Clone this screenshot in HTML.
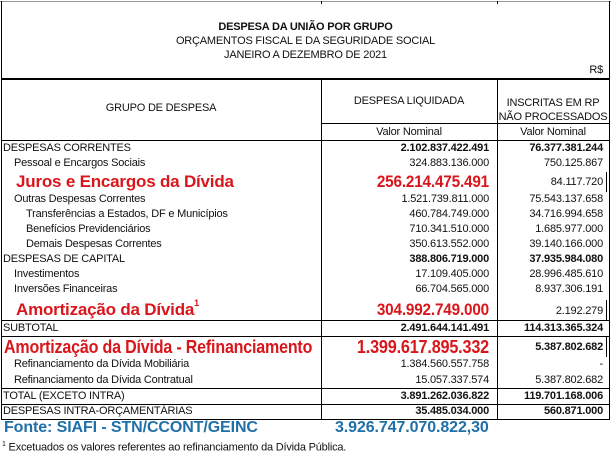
<!DOCTYPE html>
<html><head><meta charset="utf-8"><style>
body{margin:0;width:611px;height:457px;background:#fff;position:relative;overflow:hidden;font-family:"Liberation Sans",Arial,sans-serif;color:#111}
.t{position:absolute;white-space:nowrap;font-size:11px;letter-spacing:-0.2px;line-height:13px}
.r{text-align:right}
.c{text-align:center}
.b{font-weight:bold}
.red{color:#d9161c;font-weight:bold;font-size:17px;letter-spacing:-0.2px;line-height:20px}
.sr{transform:scaleX(0.9);transform-origin:right center}
.sl{transform:scaleX(0.89);transform-origin:left center}
.blue{color:#1f6fa8;font-weight:bold;font-size:16px;letter-spacing:-0.1px;line-height:20px}
.h{position:absolute;background:#000;height:1px}
.v{position:absolute;background:#000;width:1px}
</style></head><body>
<div class="h" style="left:0;top:1px;width:611px;background:#999"></div>
<div class="v" style="left:1px;top:1px;height:419px"></div>
<div class="v" style="left:609px;top:1px;height:419px"></div>
<div class="v" style="left:321px;top:1px;height:3px"></div>
<div class="v" style="left:497px;top:1px;height:3px"></div>

<div class="t c b" style="left:0;width:611px;top:21px">DESPESA DA UNIÃO POR GRUPO</div>
<div class="t c" style="left:0;width:611px;top:35px">ORÇAMENTOS FISCAL E DA SEGURIDADE SOCIAL</div>
<div class="t c" style="left:0;width:611px;top:49px">JANEIRO A DEZEMBRO DE 2021</div>
<div class="t r" style="left:500px;width:103px;top:64px">R$</div>

<div class="h" style="left:1px;top:78px;width:609px;height:2px"></div>
<div class="v" style="left:321px;top:78px;height:342px"></div>
<div class="v" style="left:497px;top:78px;height:342px"></div>
<div class="h" style="left:321px;top:123px;width:288px"></div>
<div class="h" style="left:1px;top:140px;width:609px"></div>

<div class="t c" style="left:1px;width:320px;top:102px">GRUPO DE DESPESA</div>
<div class="t c" style="left:321px;width:176px;top:95px">DESPESA LIQUIDADA</div>
<div class="t c" style="left:497px;width:112px;top:97px">INSCRITAS EM RP</div>
<div class="t c" style="left:497px;width:112px;top:111px">NÃO PROCESSADOS</div>
<div class="t c" style="left:321px;width:176px;top:126px">Valor Nominal</div>
<div class="t c" style="left:497px;width:112px;top:126px">Valor Nominal</div>

<div class="t" style="left:3px;top:142px">DESPESAS CORRENTES</div>
<div class="t r b" style="left:322px;width:167px;top:142px">2.102.837.422.491</div>
<div class="t r b" style="left:498px;width:105px;top:142px">76.377.381.244</div>

<div class="t" style="left:14px;top:157px">Pessoal e Encargos Sociais</div>
<div class="t r" style="left:322px;width:167px;top:157px">324.883.136.000</div>
<div class="t r" style="left:498px;width:105px;top:157px">750.125.867</div>

<div class="t red" style="left:16px;top:172px">Juros e Encargos da Dívida</div>
<div class="t red r sr" style="left:322px;width:167px;top:172px">256.214.475.491</div>
<div class="t r" style="left:498px;width:105px;top:176px">84.117.720</div>
<div class="v" style="left:606px;top:172px;height:20px"></div>

<div class="t" style="left:14px;top:193px">Outras Despesas Correntes</div>
<div class="t r" style="left:322px;width:167px;top:193px">1.521.739.811.000</div>
<div class="t r" style="left:498px;width:105px;top:193px">75.543.137.658</div>

<div class="t" style="left:26px;top:208px">Transferências a Estados, DF e Municípios</div>
<div class="t r" style="left:322px;width:167px;top:208px">460.784.749.000</div>
<div class="t r" style="left:498px;width:105px;top:208px">34.716.994.658</div>

<div class="t" style="left:26px;top:223px">Benefícios Previdenciários</div>
<div class="t r" style="left:322px;width:167px;top:223px">710.341.510.000</div>
<div class="t r" style="left:498px;width:105px;top:223px">1.685.977.000</div>

<div class="t" style="left:26px;top:238px">Demais Despesas Correntes</div>
<div class="t r" style="left:322px;width:167px;top:238px">350.613.552.000</div>
<div class="t r" style="left:498px;width:105px;top:238px">39.140.166.000</div>

<div class="t" style="left:3px;top:253px">DESPESAS DE CAPITAL</div>
<div class="t r b" style="left:322px;width:167px;top:253px">388.806.719.000</div>
<div class="t r b" style="left:498px;width:105px;top:253px">37.935.984.080</div>

<div class="t" style="left:14px;top:268px">Investimentos</div>
<div class="t r" style="left:322px;width:167px;top:268px">17.109.405.000</div>
<div class="t r" style="left:498px;width:105px;top:268px">28.996.485.610</div>

<div class="t" style="left:14px;top:283px">Inversões Financeiras</div>
<div class="t r" style="left:322px;width:167px;top:283px">66.704.565.000</div>
<div class="t r" style="left:498px;width:105px;top:283px">8.937.306.191</div>

<div class="t red" style="left:16px;top:300px">Amortização da Dívida<sup style="font-size:9px;position:relative;top:-2px;line-height:0">1</sup></div>
<div class="t red r sr" style="left:322px;width:167px;top:300px">304.992.749.000</div>
<div class="t r" style="left:498px;width:105px;top:305px">2.192.279</div>
<div class="v" style="left:606px;top:300px;height:20px"></div>

<div class="h" style="left:1px;top:320px;width:609px"></div>
<div class="t" style="left:3px;top:322px">SUBTOTAL</div>
<div class="t r b" style="left:322px;width:167px;top:322px">2.491.644.141.491</div>
<div class="t r b" style="left:498px;width:105px;top:322px">114.313.365.324</div>
<div class="h" style="left:1px;top:336px;width:609px"></div>

<div class="t red sl" style="left:4px;top:337px;font-size:18px">Amortização da Dívida - Refinanciamento</div>
<div class="t red r sr" style="left:322px;width:167px;top:337px;font-size:18px">1.399.617.895.332</div>
<div class="t r b" style="left:498px;width:105px;top:341px">5.387.802.682</div>
<div class="v" style="left:606px;top:337px;height:20px"></div>

<div class="t" style="left:14px;top:358px">Refinanciamento da Dívida Mobiliária</div>
<div class="t r" style="left:322px;width:167px;top:358px">1.384.560.557.758</div>
<div class="t r" style="left:498px;width:105px;top:358px">-</div>

<div class="t" style="left:14px;top:374px">Refinanciamento da Dívida Contratual</div>
<div class="t r" style="left:322px;width:167px;top:374px">15.057.337.574</div>
<div class="t r" style="left:498px;width:105px;top:374px">5.387.802.682</div>

<div class="h" style="left:1px;top:388px;width:609px"></div>
<div class="t" style="left:3px;top:390px">TOTAL (EXCETO INTRA)</div>
<div class="t r b" style="left:322px;width:167px;top:390px">3.891.262.036.822</div>
<div class="t r b" style="left:498px;width:105px;top:390px">119.701.168.006</div>
<div class="h" style="left:1px;top:404px;width:609px"></div>
<div class="t" style="left:3px;top:405px">DESPESAS INTRA-ORÇAMENTÁRIAS</div>
<div class="t r b" style="left:322px;width:167px;top:405px">35.485.034.000</div>
<div class="t r b" style="left:498px;width:105px;top:405px">560.871.000</div>
<div class="h" style="left:1px;top:419px;width:609px"></div>

<div class="t blue" style="left:4px;top:418px">Fonte: SIAFI - STN/CCONT/GEINC</div>
<div class="t blue" style="left:335px;top:418px">3.926.747.070.822,30</div>
<div class="t" style="left:2px;top:438px"><sup style="font-size:7px">1</sup> Excetuados os valores referentes ao refinanciamento da Dívida Pública.</div>
</body></html>
